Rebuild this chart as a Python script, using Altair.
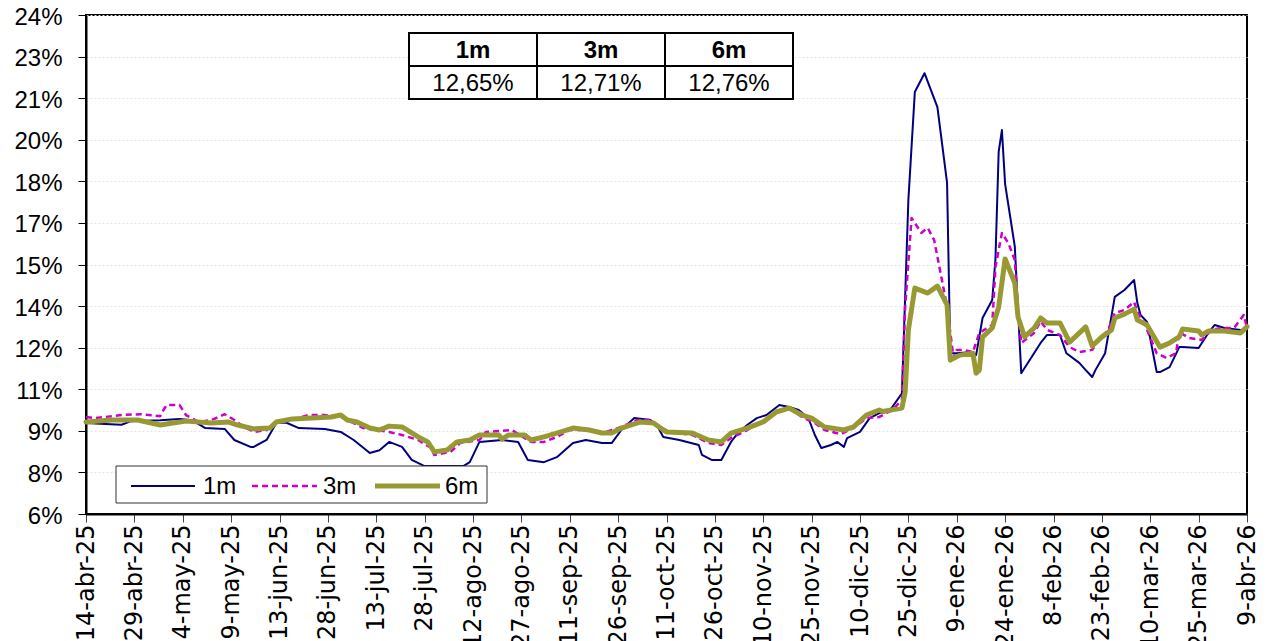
import calendar
from datetime import date, timedelta

import altair as alt
import pandas as pd

# ---------------- data ----------------
START = date(2025, 4, 14)
END = date(2026, 4, 9)

# day offsets from START, and rates in %
days_1m = [0, 6, 11, 14, 23, 29, 33, 37, 43, 46, 51, 52, 56, 59, 62, 66, 74, 79, 83, 88,
           91, 94, 98, 101, 105, 117, 119, 122, 129, 134, 137, 142, 146, 151, 155, 160, 163, 166, 170, 175,
           177, 179, 184, 190, 191, 194, 197, 200, 202, 205, 208, 211, 215, 218, 221, 224, 226, 228, 231, 233,
           235, 236, 240, 243, 246, 249, 250, 253, 255, 257, 260, 264, 267, 268, 270, 275, 276, 278, 281, 282,
           283, 284, 285, 288, 290, 296, 298, 302, 304, 308, 310, 312, 313, 316, 319, 322, 325, 326, 327, 329,
           332, 333, 336, 339, 340, 345, 348, 350, 353, 358, 360]
vals_1m = [9.28, 9.25, 9.22, 9.35, 9.38, 9.43, 9.38, 9.10, 9.07, 8.67, 8.42, 8.42, 8.67, 9.28, 9.30, 9.10, 9.07, 8.96, 8.67, 8.20,
           8.30, 8.60, 8.42, 7.95, 7.73, 7.73, 7.87, 8.60, 8.67, 8.60, 7.95, 7.87, 8.05, 8.56, 8.67, 8.56, 8.56, 9.03, 9.46, 9.39,
           9.21, 8.78, 8.67, 8.49, 8.13, 7.95, 7.95, 8.60, 8.90, 9.21, 9.46, 9.57, 9.93, 9.86, 9.75, 9.46, 8.85, 8.38, 8.49, 8.60,
           8.42, 8.74, 8.96, 9.46, 9.64, 9.70, 9.86, 10.35, 17.33, 21.22, 21.90, 20.68, 17.94, 11.80, 11.80, 11.84, 11.73, 13.07, 13.72, 15.20,
           19.06, 19.85, 17.90, 15.65, 11.08, 12.17, 12.46, 12.46, 11.80, 11.45, 11.19, 10.94, 11.19, 11.80, 13.83, 14.08, 14.44, 13.61, 13.18, 12.93,
           11.12, 11.12, 11.30, 12.02, 12.02, 11.99, 12.53, 12.82, 12.71, 12.64, 12.65]

days_3m = [0, 3, 11, 17, 23, 24, 25, 29, 31, 35, 39, 43, 46, 49, 52, 56, 59, 64, 69, 74,
           79, 83, 86, 90, 94, 98, 103, 107, 108, 113, 116, 122, 124, 132, 138, 142, 146, 150, 155, 160,
           165, 171, 175, 178, 181, 188, 193, 197, 200, 204, 209, 214, 218, 222, 226, 229, 234, 238, 242, 246,
           250, 253, 254, 256, 259, 261, 263, 266, 267, 269, 270, 272, 275, 277, 281, 282, 284, 286, 288, 289,
           290, 294, 296, 298, 302, 305, 308, 312, 314, 317, 319, 322, 325, 326, 328, 332, 335, 338, 339, 342,
           346, 349, 352, 356, 359, 360]
vals_3m = [9.50, 9.46, 9.57, 9.60, 9.53, 9.75, 9.93, 9.93, 9.57, 9.32, 9.39, 9.60, 9.39, 9.14, 8.96, 9.03, 9.32, 9.39, 9.57, 9.57,
           9.50, 9.28, 9.10, 9.03, 8.96, 8.85, 8.67, 8.38, 8.13, 8.24, 8.56, 8.67, 8.96, 9.03, 8.60, 8.60, 8.78, 9.03, 9.03, 8.92,
           9.10, 9.39, 9.39, 9.14, 8.96, 8.85, 8.56, 8.49, 8.74, 8.96, 9.28, 9.64, 9.82, 9.50, 9.28, 9.03, 8.88, 9.10, 9.46, 9.50,
           9.75, 10.11, 13.47, 16.68, 16.14, 16.32, 15.88, 14.08, 13.47, 11.63, 11.92, 11.92, 11.84, 12.53, 12.82, 14.91, 16.14, 15.77, 15.16, 13.25,
           12.17, 12.53, 12.95, 12.64, 12.46, 12.02, 11.84, 11.92, 12.28, 12.64, 13.25, 13.36, 13.65, 13.29, 12.93, 11.80, 11.63, 11.80, 12.56, 12.35,
           12.28, 12.64, 12.71, 12.71, 13.18, 12.71]

days_6m = [0, 8, 16, 23, 27, 31, 39, 44, 47, 52, 57, 59, 64, 70, 76, 79, 81, 84, 88, 91,
           94, 98, 103, 106, 108, 112, 115, 119, 122, 128, 129, 131, 136, 138, 142, 146, 151, 156, 160, 163,
           166, 172, 176, 179, 180, 188, 193, 197, 200, 205, 210, 214, 218, 222, 225, 229, 235, 238, 242, 246,
           247, 253, 254, 255, 257, 261, 264, 267, 268, 271, 275, 276, 277, 278, 281, 283, 285, 288, 289, 291,
           294, 296, 298, 302, 305, 310, 312, 315, 318, 319, 322, 325, 326, 329, 333, 336, 339, 340, 345, 346,
           348, 353, 358, 360]
vals_6m = [9.32, 9.39, 9.39, 9.21, 9.28, 9.35, 9.28, 9.32, 9.21, 9.07, 9.10, 9.32, 9.43, 9.46, 9.50, 9.57, 9.39, 9.32, 9.10, 9.03,
           9.17, 9.14, 8.78, 8.60, 8.24, 8.31, 8.60, 8.67, 8.85, 8.85, 8.70, 8.85, 8.85, 8.67, 8.78, 8.92, 9.10, 9.03, 8.92, 8.92,
           9.10, 9.32, 9.28, 9.03, 8.96, 8.92, 8.67, 8.60, 8.92, 9.10, 9.32, 9.68, 9.82, 9.57, 9.46, 9.14, 9.03, 9.14, 9.57, 9.75,
           9.70, 9.82, 10.40, 12.64, 14.15, 13.97, 14.22, 13.54, 11.55, 11.73, 11.80, 11.08, 11.19, 12.38, 12.71, 13.47, 15.20, 14.33, 13.11, 12.39,
           12.71, 13.07, 12.89, 12.89, 12.20, 12.75, 12.06, 12.39, 12.64, 13.07, 13.21, 13.39, 13.00, 12.82, 12.02, 12.17, 12.39, 12.67, 12.60, 12.46,
           12.60, 12.60, 12.53, 12.76]

series_names = ["1m", "3m", "6m"]
series_colors = ["#000080", "#CC00CC", "#999933"]

table_headers = ["1m", "3m", "6m"]
table_values = ["12,65%", "12,71%", "12,76%"]

tick_labels = ["14-abr-25", "29-abr-25", "14-may-25", "29-may-25", "13-jun-25", "28-jun-25",
               "13-jul-25", "28-jul-25", "12-ago-25", "27-ago-25", "11-sep-25", "26-sep-25",
               "11-oct-25", "26-oct-25", "10-nov-25", "25-nov-25", "10-dic-25", "25-dic-25",
               "9-ene-26", "24-ene-26", "8-feb-26", "23-feb-26", "10-mar-26", "25-mar-26", "9-abr-26"]
month_abbr = ["ene", "feb", "mar", "abr", "may", "jun", "jul", "ago", "sep", "oct", "nov", "dic"]
y_ticks = [6, 7.5, 9, 10.5, 12, 13.5, 15, 16.5, 18, 19.5, 21, 22.5, 24]

# ---------------- build tables ----------------
def iso(d):
    return (START + timedelta(days=d)).isoformat()

frames = []
for name, ds, vs in [("1m", days_1m, vals_1m), ("3m", days_3m, vals_3m), ("6m", days_6m, vals_6m)]:
    assert len(ds) == len(vs), name
    frames.append(pd.DataFrame({"fecha": [iso(d) for d in ds], "tasa": vs, "serie": name}))
df = pd.concat(frames, ignore_index=True)


def ms(d):
    return calendar.timegm(d.timetuple()) * 1000


def parse_label(s):
    dd, mm, yy = s.split("-")
    return date(2000 + int(yy), month_abbr.index(mm) + 1, int(dd))


tick_ms = [ms(parse_label(s)) for s in tick_labels]

months_js = "[" + ",".join("'%s'" % m for m in month_abbr) + "]"
x_label_expr = ("utcdate(datum.value) + '-' + " + months_js +
                "[utcmonth(datum.value)] + '-' + utcFormat(datum.value, '%y')")

# ---------------- layout constants ----------------
W, H = 1161, 499
FONT = "Liberation Sans"

x_enc = alt.X(
    "fecha:T",
    scale=alt.Scale(type="utc", domain=[ms(START), ms(END)], nice=False),
    axis=alt.Axis(
        values=tick_ms, labelExpr=x_label_expr, labelAngle=270, labelFont="DejaVu Sans",
        labelFontSize=24, labelColor="black", labelPadding=2, labelOverlap=False,
        labelBound=False, labelFlush=False, tickSize=8, tickColor="#444444", tickWidth=1,
        domainColor="black", domainWidth=2, grid=False, title=None,
    ),
)
y_enc = alt.Y(
    "tasa:Q",
    scale=alt.Scale(domain=[6, 24], nice=False, zero=False),
    axis=alt.Axis(
        values=y_ticks, labelExpr="round(datum.value) + '%'", labelFont=FONT,
        labelFontSize=24, labelColor="black", labelPadding=16, labelOffset=2, tickSize=8,
        tickColor="black", tickWidth=1, domainColor="black", domainWidth=2,
        grid=True, gridColor="#e4e4e4", gridDash=[2, 2], gridWidth=1, title=None,
    ),
)

base = alt.Chart(df)
line_1m = base.transform_filter("datum.serie == '1m'").mark_line(
    color=series_colors[0], strokeWidth=2, strokeJoin="round").encode(x=x_enc, y=y_enc)
line_3m = base.transform_filter("datum.serie == '3m'").mark_line(
    color=series_colors[1], strokeWidth=2.5, strokeDash=[6, 4], strokeJoin="round").encode(x=x_enc, y=y_enc)
line_6m = base.transform_filter("datum.serie == '6m'").mark_line(
    color=series_colors[2], strokeWidth=5, strokeJoin="round", strokeCap="round").encode(x=x_enc, y=y_enc)

one = pd.DataFrame({"k": [0]})

# ---------------- table (top) ----------------
TX0, TY0, CW, RH = 323, 18, 128, 33
table_layers = []
for i in range(len(table_headers)):
    x0 = TX0 + CW * i
    for r in range(2):
        table_layers.append(
            alt.Chart(one).mark_rect(fill="white", stroke="black", strokeWidth=2).encode(
                x=alt.value(x0), x2=alt.value(x0 + CW),
                y=alt.value(TY0 + RH * r), y2=alt.value(TY0 + RH * (r + 1)))
        )
    table_layers.append(
        alt.Chart(pd.DataFrame({"t": [table_headers[i]]})).mark_text(
            font=FONT, fontSize=24, fontWeight="bold", color="black", align="center", baseline="middle"
        ).encode(x=alt.value(x0 + CW / 2), y=alt.value(TY0 + RH / 2 + 1), text="t:N")
    )
    table_layers.append(
        alt.Chart(pd.DataFrame({"t": [table_values[i]]})).mark_text(
            font=FONT, fontSize=24, color="black", align="center", baseline="middle"
        ).encode(x=alt.value(x0 + CW / 2), y=alt.value(TY0 + RH * 1.5 + 1), text="t:N")
    )

# ---------------- legend (bottom left) ----------------
LX0, LX1, LY0, LY1 = 30, 401, 451, 488
LY = 471
legend_layers = [
    alt.Chart(one).mark_rect(fill="white", stroke="#333333", strokeWidth=1).encode(
        x=alt.value(LX0), x2=alt.value(LX1), y=alt.value(LY0), y2=alt.value(LY1))
]
leg_line_x = [(45, 109), (166, 231), (289, 354)]
leg_text_x = [117, 237, 359]
leg_styles = [dict(strokeWidth=2), dict(strokeWidth=2.5, strokeDash=[6, 4]), dict(strokeWidth=5)]
for i, name in enumerate(series_names):
    a, b = leg_line_x[i]
    legend_layers.append(
        alt.Chart(one).mark_rule(color=series_colors[i], **leg_styles[i]).encode(
            x=alt.value(a), x2=alt.value(b), y=alt.value(LY))
    )
    legend_layers.append(
        alt.Chart(pd.DataFrame({"t": [name]})).mark_text(
            font=FONT, fontSize=24, color="black", align="left", baseline="middle"
        ).encode(x=alt.value(leg_text_x[i]), y=alt.value(LY + 1), text="t:N")
    )

chart = alt.layer(line_1m, line_3m, line_6m, *table_layers, *legend_layers).properties(
    width=W, height=H,
    padding={"left": 78, "top": 7, "right": 13, "bottom": 127},
    autosize=alt.AutoSizeParams(type="none"),
    background="white",
).configure_view(stroke="black", strokeWidth=2)

chart.save("out.html", embed_options={"renderer": "svg", "actions": False})
